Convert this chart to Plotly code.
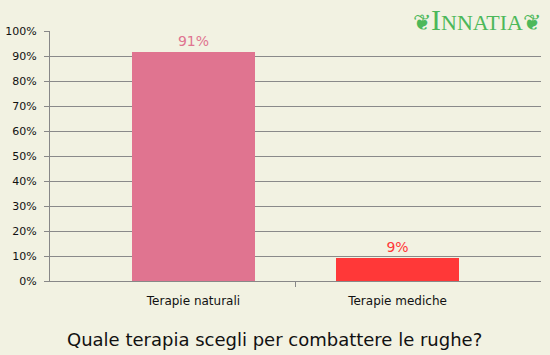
import plotly.graph_objects as go

categories = ["Terapie naturali", "Terapie mediche"]
values = [91.6, 9.2]
labels = ["91%", "9%"]
colors = ["#E07490", "#FF3838"]
y_ticks = list(range(0, 101, 10))
y_tick_labels = [f"{v}%" for v in y_ticks]

BG = "#F2F2E2"
FONT = "DejaVu Sans"

xpos = list(range(len(categories)))

fig = go.Figure()
fig.add_trace(go.Bar(
    x=xpos, y=values, width=0.603,
    marker=dict(color=colors, line=dict(width=0)),
    text=labels, textposition="outside",
    textfont=dict(family=FONT, size=14, color=colors),
    cliponaxis=False, hoverinfo="skip",
))

fig.update_layout(
    width=550, height=355,
    margin=dict(l=50, r=9, t=31, b=74),
    paper_bgcolor=BG, plot_bgcolor=BG,
    showlegend=False,
    font=dict(family=FONT, size=11, color="#222222"),
    bargap=0,
)
fig.update_xaxes(
    range=[-0.703, 1.703],
    tickvals=xpos, ticktext=categories, ticks="",
    tickfont=dict(size=12, color="#111111"),
    ticklabelstandoff=9, automargin=False,
    showgrid=False, zeroline=False,
    showline=True, linecolor="#888888", linewidth=1,
    minor=dict(tickvals=[0.5], ticks="outside", ticklen=5, tickcolor="#888888", showgrid=False),
    fixedrange=True,
)
fig.update_yaxes(
    range=[0, 100], tickvals=y_ticks, ticktext=y_tick_labels,
    ticks="outside", ticklen=5, tickcolor="#888888",
    ticklabelstandoff=5, automargin=False,
    showgrid=True, gridcolor="#8a8a8a", gridwidth=1,
    showline=True, linecolor="#888888", linewidth=1,
    zeroline=False, tickfont=dict(size=11, color="#111111"),
    fixedrange=True,
)

fig.add_annotation(
    text="Quale terapia scegli per combattere le rughe?",
    xref="paper", yref="paper", x=0.458, y=0, yshift=-58,
    xanchor="center", yanchor="middle", showarrow=False,
    font=dict(family=FONT, size=18, color="#111111"),
)
fig.add_annotation(
    text="❦<span style='font-size:30px'>I</span>NNATIA❦",
    xref="paper", yref="paper", x=1, y=1, xshift=2, yshift=12,
    xanchor="right", yanchor="middle", showarrow=False,
    font=dict(family="Liberation Serif", size=22, color="#4CB85A"),
)

fig.write_html("out.html")
